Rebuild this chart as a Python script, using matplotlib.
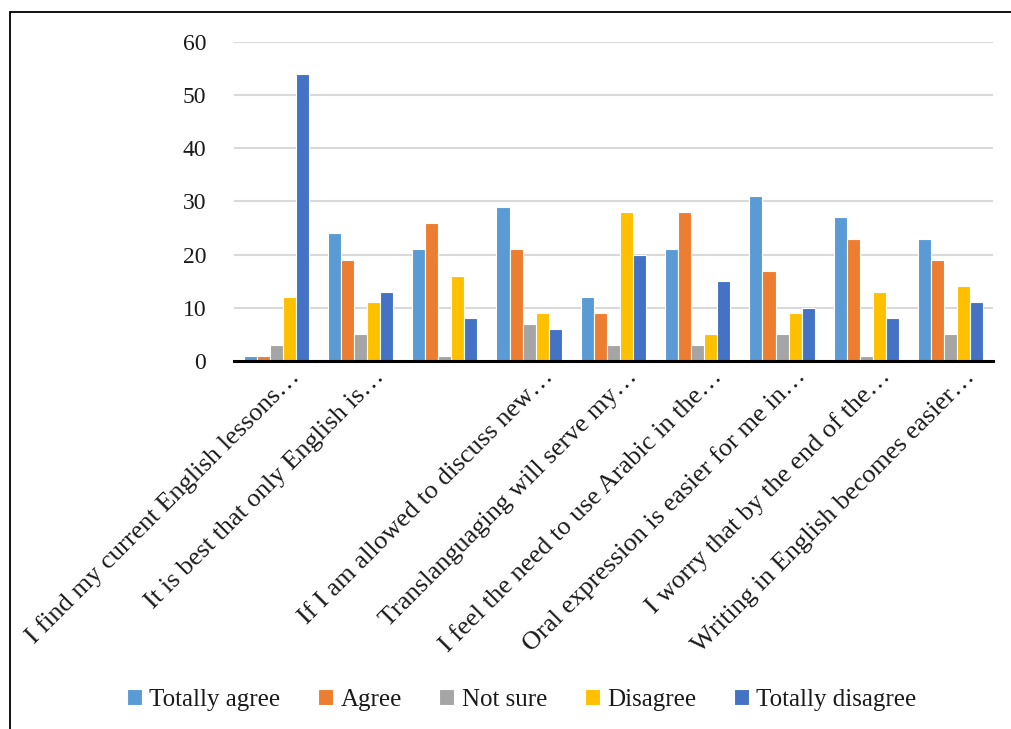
import matplotlib.pyplot as plt
import matplotlib.transforms as mtransforms
from matplotlib.patches import Rectangle
import numpy as np

plt.rcParams['font.family'] = ['Liberation Serif', 'DejaVu Serif']

# survey statements (third label is hidden on the axis)
statements = [
    "I find my current English lessons…",
    "It is best that only English is…",
    "",
    "If I am allowed to discuss new…",
    "Translanguaging will serve my…",
    "I feel the need to use Arabic in the…",
    "Oral expression is easier for me in…",
    "I worry that by the end of the…",
    "Writing in English becomes easier…",
]

responses = ["Totally agree", "Agree", "Not sure", "Disagree", "Totally disagree"]

totally_agree = [1, 24, 21, 29, 12, 21, 31, 27, 23]
agree = [1, 19, 26, 21, 9, 28, 17, 23, 19]
not_sure = [3, 5, 1, 7, 3, 3, 5, 1, 5]
disagree = [12, 11, 16, 9, 28, 5, 9, 13, 14]
totally_disagree = [54, 13, 8, 6, 20, 15, 10, 8, 11]

series = [totally_agree, agree, not_sure, disagree, totally_disagree]
colors = ["#5B9BD5", "#ED7D31", "#A5A5A5", "#FFC000", "#4472C4"]

fig = plt.figure(figsize=(10.11, 7.29), dpi=100)
ax = fig.add_axes([0.2315, 0.5048, 0.7505, 0.438])

# outer frame around the chart
fig.patches.append(Rectangle((10 / 1011, -0.05), 1.1, 1 - 12 / 729 + 0.05,
                             transform=fig.transFigure, fill=False,
                             edgecolor='black', linewidth=1.3))

x = np.arange(len(statements))
w = 0.155
for i, (vals, name, c) in enumerate(zip(series, responses, colors)):
    ax.bar(x + (i - 2) * w, vals, width=w, color=c, edgecolor='white',
           linewidth=0.8, label=name, zorder=3)

ax.set_xlim(-0.5, len(statements) - 0.5)
ax.set_ylim(0, 60)
ax.set_yticks(range(0, 61, 10))
ax.grid(axis='y', color='#d9d9d9', linewidth=1.5, zorder=0)
for s in ['top', 'right', 'left']:
    ax.spines[s].set_visible(False)
ax.spines['bottom'].set_linewidth(2.2)
ax.spines['bottom'].set_zorder(4)

ax.tick_params(axis='y', length=0, pad=20, labelsize=17, labelcolor='#1a1a1a')
ax.set_xticks(x)
ax.set_xticklabels(statements, rotation=45, ha='right', va='baseline',
                   rotation_mode='anchor', fontsize=19, color='#1a1a1a')
ax.tick_params(axis='x', length=0, pad=12)
shift = mtransforms.ScaledTranslation(25 / 100, 0, fig.dpi_scale_trans)
for lab in ax.get_xticklabels():
    lab.set_transform(lab.get_transform() + shift)

fig.legend(loc='center', bbox_to_anchor=(0.516, 0.04), ncol=5, frameon=False,
           fontsize=18, handlelength=0.6, handleheight=0.6, handletextpad=0.3,
           columnspacing=1.5, labelcolor='#1a1a1a')

fig.savefig('out.png', dpi=100)
